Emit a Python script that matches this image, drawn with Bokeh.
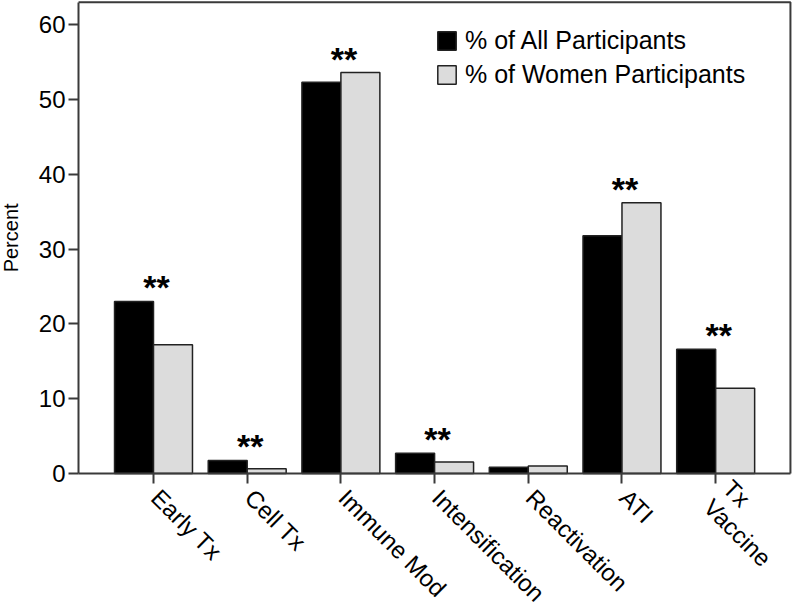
import math
from bokeh.plotting import figure
from bokeh.models import ColumnDataSource, Range1d, Legend, LegendItem, FixedTicker
from bokeh.core.properties import value
from bokeh.embed import file_html
from bokeh.resources import INLINE

categories = ["Early Tx", "Cell Tx", "Immune Mod", "Intensification", "Reactivation", "ATI", "Tx Vaccine"]
label_line1 = ["Early Tx", "Cell Tx", "Immune Mod", "Intensification", "Reactivation", "ATI", "Tx"]
label_line2 = ["", "", "", "", "", "", "Vaccine"]
all_participants = [23.0, 1.75, 52.3, 2.7, 0.85, 31.8, 16.6]
women_participants = [17.2, 0.65, 53.6, 1.55, 1.0, 36.2, 11.4]
significance = ["**", "**", "**", "**", "", "**", "**"]
y_ticks = [0, 10, 20, 30, 40, 50, 60]
y_title = "Percent"

FONT = "Liberation Sans"
AX = "#3a3a3a"
BW = 0.416
Y_TOP = 63.0                  # top edge of the plotting box
X_LEFT, X_RIGHT = 0.2, 7.798  # left / right edges of the plotting box
xpos = list(range(1, len(categories) + 1))

src = ColumnDataSource(dict(
    x=xpos,
    x_all=[x - BW / 2 for x in xpos],
    x_women=[x + BW / 2 for x in xpos],
    all=all_participants,
    women=women_participants,
    top=[max(a, w) for a, w in zip(all_participants, women_participants)],
    sig=significance,
))

# label placement (two-line labels are split perpendicular to the text direction)
PITCH = 27.0
perp = (-math.sqrt(0.5), math.sqrt(0.5))
base = (2.0, 20.0)
two = [bool(s) for s in label_line2]
l1_dx = [base[0] - perp[0] * PITCH / 2 if t else base[0] for t in two]
l1_dy = [base[1] - perp[1] * PITCH / 2 if t else base[1] for t in two]
lab_src = ColumnDataSource(dict(x=xpos, y=[0] * len(xpos), t1=label_line1, t2=label_line2,
                                dx1=l1_dx, dy1=l1_dy))

# the frame covers the whole figure; axes are drawn at fixed data locations
p = figure(
    width=792, height=609,
    x_range=Range1d(-0.633, 7.820),
    y_range=Range1d(-18.18, 63.24),
    output_backend="svg", toolbar_location=None,
    min_border_left=0, min_border_right=0, min_border_top=0, min_border_bottom=0,
)

p.background_fill_color = "white"
p.border_fill_color = "white"
p.outline_line_color = None
p.xgrid.grid_line_color = None
p.ygrid.grid_line_color = None

# box: top and right edges
p.line(x=[X_LEFT, X_RIGHT, X_RIGHT], y=[Y_TOP, Y_TOP, 0], line_color=AX, line_width=2)

r_all = p.vbar(x="x_all", top="all", width=BW, source=src,
               fill_color="black", line_color="#222222", line_width=1.5)
r_women = p.vbar(x="x_women", top="women", width=BW, source=src,
                 fill_color="#dcdcdc", line_color="#222222", line_width=1.5)

p.text(x="x", y="top", text="sig", source=src, text_font=value(FONT), text_font_size="34px",
       text_font_style="bold", text_align="center", text_baseline="middle", y_offset=-14,
       x_offset=3, text_color="black")

# category labels
p.text(x="x", y="y", text="t1", source=lab_src, angle=-math.pi / 4, x_offset="dx1", y_offset="dy1",
       text_align="left", text_baseline="middle", text_font=value(FONT), text_font_size="24px",
       text_color="black")
p.text(x="x", y="y", text="t2", source=lab_src, angle=-math.pi / 4,
       x_offset=base[0] + perp[0] * PITCH / 2, y_offset=base[1] + perp[1] * PITCH / 2,
       text_align="left", text_baseline="middle", text_font=value(FONT), text_font_size="24px",
       text_color="black")

# y title
p.text(x=[X_LEFT], y=[Y_TOP / 2], text=[y_title], angle=math.pi / 2, x_offset=-68,
       text_align="center", text_baseline="middle", text_font=value(FONT), text_font_size="20px",
       text_color="black")

# y axis
yax = p.yaxis[0]
yax.fixed_location = X_LEFT
yax.ticker = FixedTicker(ticks=y_ticks)
yax.bounds = (0, Y_TOP)
yax.minor_tick_line_color = None
yax.major_tick_out = 10
yax.major_tick_in = 0
yax.major_tick_line_width = 2
yax.major_tick_line_color = AX
yax.axis_line_width = 2
yax.axis_line_color = AX
yax.major_label_text_font = FONT
yax.major_label_text_font_size = "24px"
yax.major_label_text_color = "black"
yax.major_label_standoff = 3

# x axis at y = 0
xax = p.xaxis[0]
xax.fixed_location = 0
xax.bounds = (X_LEFT, X_RIGHT)
xax.ticker = FixedTicker(ticks=xpos)
xax.major_label_overrides = {x: "" for x in xpos}
xax.major_label_standoff = 0
xax.minor_tick_line_color = None
xax.major_tick_out = 10
xax.major_tick_in = 0
xax.major_tick_line_width = 2
xax.major_tick_line_color = AX
xax.axis_line_width = 2
xax.axis_line_color = AX

legend = Legend(
    items=[LegendItem(label="% of All Participants", renderers=[r_all]),
           LegendItem(label="% of Women Participants", renderers=[r_women])],
    location=(435, 520),
    border_line_color=None,
    background_fill_alpha=0,
    padding=0,
    spacing=5,
    glyph_width=23,
    glyph_height=23,
    label_standoff=7,
    label_text_font=FONT,
    label_text_font_size="25px",
    label_text_color="black",
)
p.add_layout(legend)

open("out.html", "w").write(file_html(p, INLINE))
